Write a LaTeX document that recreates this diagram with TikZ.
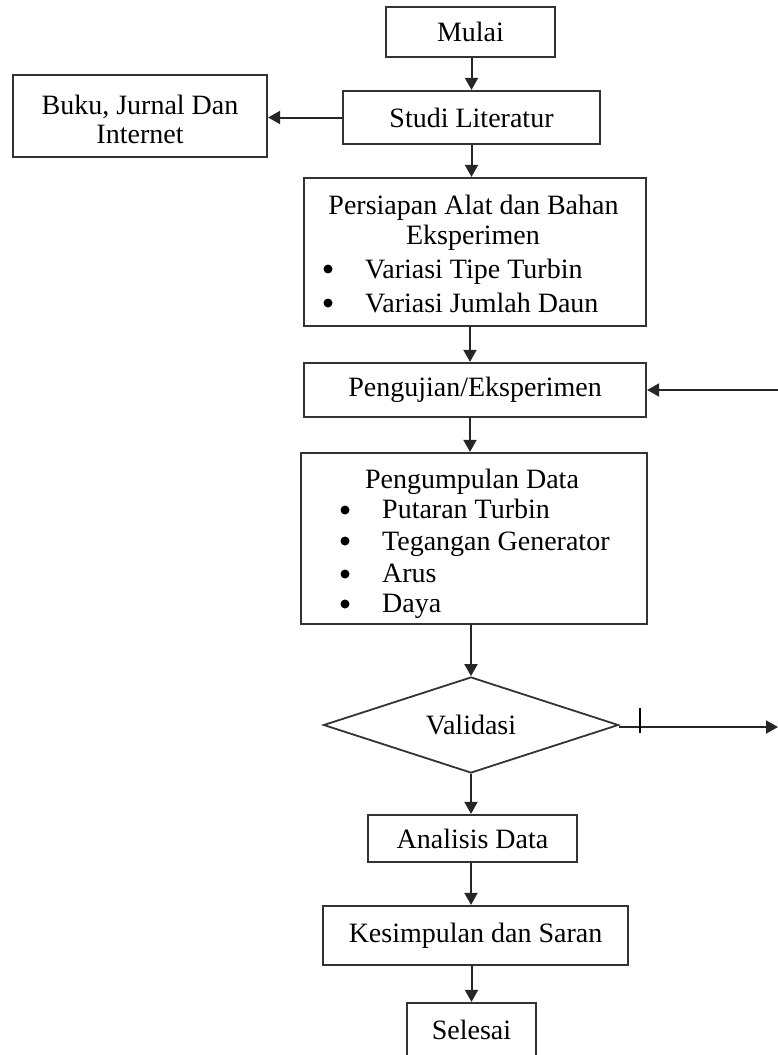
\documentclass[tikz,border=0pt]{standalone}
\usepackage{fontspec}
\setmainfont{Liberation Serif}
\usetikzlibrary{arrows.meta,shapes.geometric,calc}
\begin{document}
\begin{tikzpicture}[x=1pt,y=-1pt,
  font=\fontsize{28}{33}\selectfont,
  box/.style={draw=black!80, line width=2.2pt, inner sep=0pt, align=center},
  arr/.style={draw=black!85, line width=2pt, -{Triangle[length=12pt,width=13pt]}},
  txt/.style={inner sep=0pt, text=black},
  dot/.style={fill=black}]
\useasboundingbox (0,0) rectangle (778,1055);

% boxes
\node[box, minimum width=169pt, minimum height=50pt] (mulai) at (470.5,32) {Mulai};
\node[box, minimum width=257pt, minimum height=53pt] (studi) at (471.5,117.5) {Studi Literatur};
\node[box, minimum width=254pt, minimum height=82pt] (buku) at (140,116) {};
\node[txt, anchor=base] (buku1) at (140,114) {Buku, Jurnal Dan};
\node[txt, anchor=base] (buku2) at (140,143) {Internet};

\node[box, minimum width=342pt, minimum height=148pt] (persiapan) at (475,252) {};
\node[txt, anchor=base] (p1) at (473.5,214) {Persiapan Alat dan Bahan};
\node[txt, anchor=base] (p2) at (473,244) {Eksperimen};
\fill[dot] (328,269) circle (4.5);
\fill[dot] (328,303) circle (4.5);
\node[txt, anchor=base west] (p3) at (365,278) {Variasi Tipe Turbin};
\node[txt, anchor=base west] (p4) at (365,312) {Variasi Jumlah Daun};

\node[box, minimum width=342pt, minimum height=54pt] (pengujian) at (475,390) {Pengujian/Eksperimen};

\node[box, minimum width=346pt, minimum height=171pt] (pengumpulan) at (474,538.5) {};
\node[txt, anchor=base] (d0) at (472,488) {Pengumpulan Data};
\fill[dot] (345,510) circle (4.5);
\fill[dot] (345,541) circle (4.5);
\fill[dot] (345,574) circle (4.5);
\fill[dot] (345,604) circle (4.5);
\node[txt, anchor=base west] (d1) at (382,518) {Putaran Turbin};
\node[txt, anchor=base west] (d2) at (382,550) {Tegangan Generator};
\node[txt, anchor=base west] (d3) at (382,582) {Arus};
\node[txt, anchor=base west] (d4) at (382,612) {Daya};

\node[box, shape=diamond, shape aspect=3.07, minimum width=295pt, minimum height=96pt, line width=1.8pt] (validasi) at (471,725) {Validasi};

\node[box, minimum width=209pt, minimum height=47pt] (analisis) at (472.5,838.5) {Analisis Data};
\node[box, minimum width=305pt, minimum height=59pt] (kesimpulan) at (475.5,935.5) {Kesimpulan dan Saran};
\node[box, minimum width=129pt, minimum height=54pt] (selesai) at (471.5,1030) {};
\node[txt] (selesaitxt) at (471.5,1030) {Selesai};

% free ends
\coordinate (rightout) at (778,727);
\coordinate (rightin) at (778,390);
\coordinate (tick) at (640,727);

% connectors
\draw[arr] (mulai.south -| studi.north) -- (studi.north);
\draw[arr] (studi.west) -- (studi.west -| buku.east);
\draw[arr] (studi.south) -- (studi.south |- persiapan.north);
\draw[arr] (470,326) -- (pengujian.north -| 470,0);
\draw[arr] (470,417) -- (pengumpulan.north -| 470,0);
\draw[arr] (pengumpulan.south -| validasi.north) -- (validasi.north);
\draw[arr] (validasi.south) -- (validasi.south |- analisis.north);
\draw[arr] (analisis.south -| 471,0) -- (kesimpulan.north -| 471,0);
\draw[arr] (kesimpulan.south -| selesai.north) -- (selesai.north);
\draw[arr] (validasi.east |- rightout) -- (rightout);
\draw[draw=black, line width=2pt] ($(tick)+(0,-19)$) -- ($(tick)+(0,6)$);
\draw[arr] (rightin) -- (pengujian.east |- rightin);
\end{tikzpicture}
\end{document}
